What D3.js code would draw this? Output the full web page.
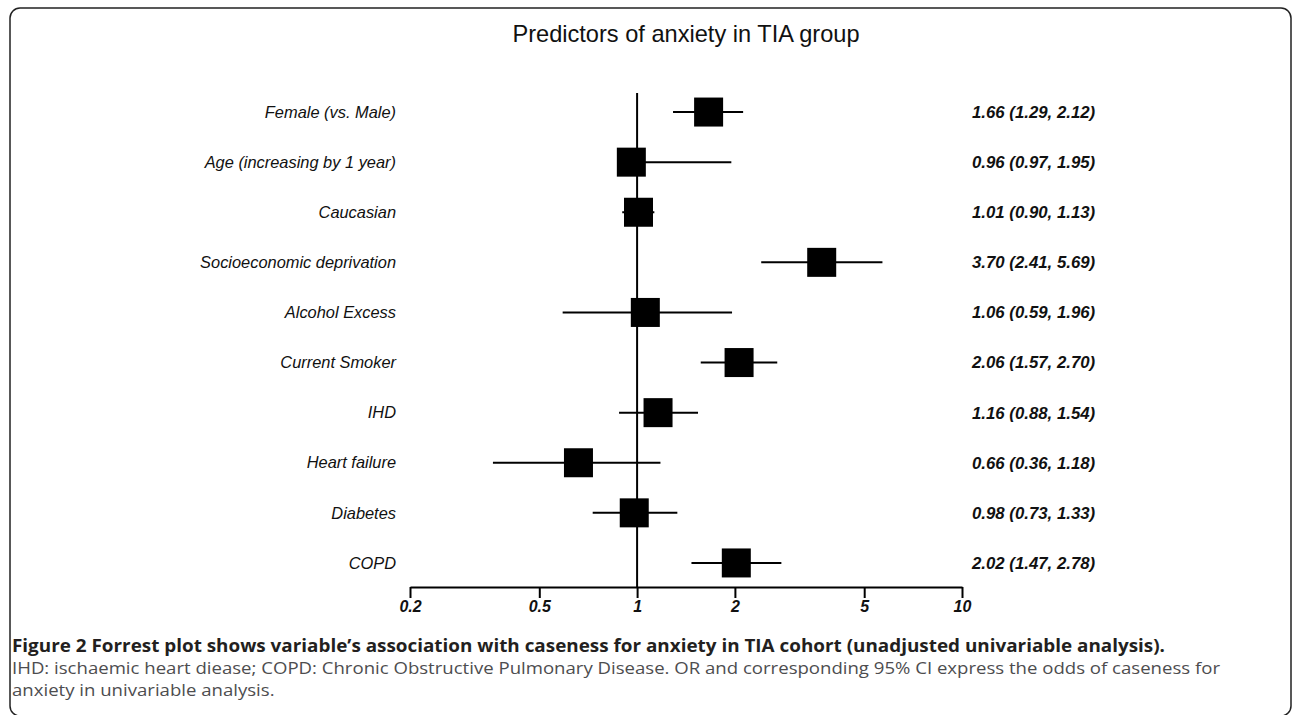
<!DOCTYPE html>
<html>
<head>
<meta charset="utf-8">
<script src="https://cdn.jsdelivr.net/npm/d3@7"></script>
<style>
  html, body { margin: 0; padding: 0; background: #fff; }
  svg { display: block; }
</style>
</head>
<body>
<script>
// ---- data ----
const categories = ["Female (vs. Male)", "Age (increasing by 1 year)", "Caucasian", "Socioeconomic deprivation",
  "Alcohol Excess", "Current Smoker", "IHD", "Heart failure", "Diabetes", "COPD"];
const oddsRatio = [1.66, 0.96, 1.01, 3.70, 1.06, 2.06, 1.16, 0.66, 0.98, 2.02];
const ciLower   = [1.29, 0.97, 0.90, 2.41, 0.59, 1.57, 0.88, 0.36, 0.73, 1.47];
const ciUpper   = [2.12, 1.95, 1.13, 5.69, 1.96, 2.70, 1.54, 1.18, 1.33, 2.78];
const valueLabels = ["1.66 (1.29, 2.12)", "0.96 (0.97, 1.95)", "1.01 (0.90, 1.13)", "3.70 (2.41, 5.69)",
  "1.06 (0.59, 1.96)", "2.06 (1.57, 2.70)", "1.16 (0.88, 1.54)", "0.66 (0.36, 1.18)", "0.98 (0.73, 1.33)", "2.02 (1.47, 2.78)"];
const tickValues = [0.2, 0.5, 1, 2, 5, 10];
const tickLabels = ["0.2", "0.5", "1", "2", "5", "10"];
const title = "Predictors of anxiety in TIA group";
const captionBold = "Figure 2 Forrest plot shows variable\u2019s association with caseness for anxiety in TIA cohort (unadjusted univariable analysis).";
const captionLines = ["IHD: ischaemic heart diease; COPD: Chronic Obstructive Pulmonary Disease. OR and corresponding 95% CI express the odds of caseness for",
  "anxiety in univariable analysis."];

// ---- layout ----
const W = 1292, H = 715;
const svg = d3.select("body").append("svg").attr("width", W).attr("height", H);

// frame (right and bottom edges run to the page edge)
svg.append("rect").attr("x", 10).attr("y", 8).attr("width", 1281).attr("height", 708)
  .attr("rx", 10).attr("ry", 10).attr("fill", "none").attr("stroke", "#222").attr("stroke-width", 1.5);

const x = d3.scaleLog().domain([0.2, 10]).range([410, 962]);
const y = d3.scaleBand().domain(categories).range([87, 588]).paddingInner(0).paddingOuter(0);
const yc = d => y(d) + y.bandwidth() / 2;
const axisY = 587;
const boxSize = 29;

// title
svg.append("text").attr("x", 686).attr("y", 42).attr("text-anchor", "middle")
  .attr("font-family", "Liberation Sans, Arial, sans-serif").attr("font-size", 23.6)
  .attr("fill", "#111").text(title);

// reference line at OR = 1
svg.append("line").attr("x1", x(1)).attr("x2", x(1)).attr("y1", 93).attr("y2", axisY)
  .attr("stroke", "#000").attr("stroke-width", 2);

// axis
const axis = d3.axisBottom(x).tickValues(tickValues).tickFormat((d, i) => tickLabels[i])
  .tickSize(11).tickSizeOuter(0).tickPadding(3);
const gAxis = svg.append("g").attr("transform", `translate(0,${axisY})`).call(axis);
gAxis.select(".domain").attr("stroke", "#000").attr("stroke-width", 2);
gAxis.selectAll(".tick line").attr("stroke", "#000").attr("stroke-width", 2);
gAxis.selectAll(".tick text").attr("font-family", "Liberation Sans, Arial, sans-serif")
  .attr("font-size", 16).attr("font-style", "italic").attr("font-weight", "bold").attr("fill", "#111");

// rows
const rows = svg.append("g").selectAll("g").data(categories).join("g");
rows.append("line")
  .attr("x1", (d, i) => x(ciLower[i])).attr("x2", (d, i) => x(ciUpper[i]))
  .attr("y1", d => yc(d)).attr("y2", d => yc(d))
  .attr("stroke", "#000").attr("stroke-width", 2);
rows.append("rect")
  .attr("x", (d, i) => x(oddsRatio[i]) - boxSize / 2).attr("y", d => yc(d) - boxSize / 2)
  .attr("width", boxSize).attr("height", boxSize).attr("fill", "#000");
rows.append("text")
  .attr("x", 396).attr("y", d => yc(d)).attr("dy", "0.35em").attr("text-anchor", "end")
  .attr("font-family", "Liberation Sans, Arial, sans-serif").attr("font-size", 16.4)
  .attr("font-style", "italic").attr("fill", "#111").text(d => d);
rows.append("text")
  .attr("x", 972).attr("y", d => yc(d)).attr("dy", "0.35em").attr("text-anchor", "start")
  .attr("font-family", "Liberation Sans, Arial, sans-serif").attr("font-size", 16.8)
  .attr("font-style", "italic").attr("font-weight", "bold").attr("fill", "#111")
  .text((d, i) => valueLabels[i]);

// caption
svg.append("text").attr("x", 12).attr("y", 652)
  .attr("font-family", "Open Sans, sans-serif").attr("font-size", 17).attr("font-weight", "bold")
  .attr("fill", "#231f20").attr("textLength", 1153).attr("lengthAdjust", "spacingAndGlyphs")
  .text(captionBold);
const capNodes = captionLines.map((t, i) =>
  svg.append("text").attr("x", 12).attr("y", 674 + i * 22)
    .attr("font-family", "Open Sans, sans-serif").attr("font-size", 17)
    .attr("fill", "#4d4d4f").text(t));
// compress body lines by the same factor so that line 1 spans the measured width
const squeeze = 1208 / capNodes[0].node().getComputedTextLength();
capNodes.forEach(n => n.attr("textLength", n.node().getComputedTextLength() * squeeze)
  .attr("lengthAdjust", "spacingAndGlyphs"));
</script>
</body>
</html>
